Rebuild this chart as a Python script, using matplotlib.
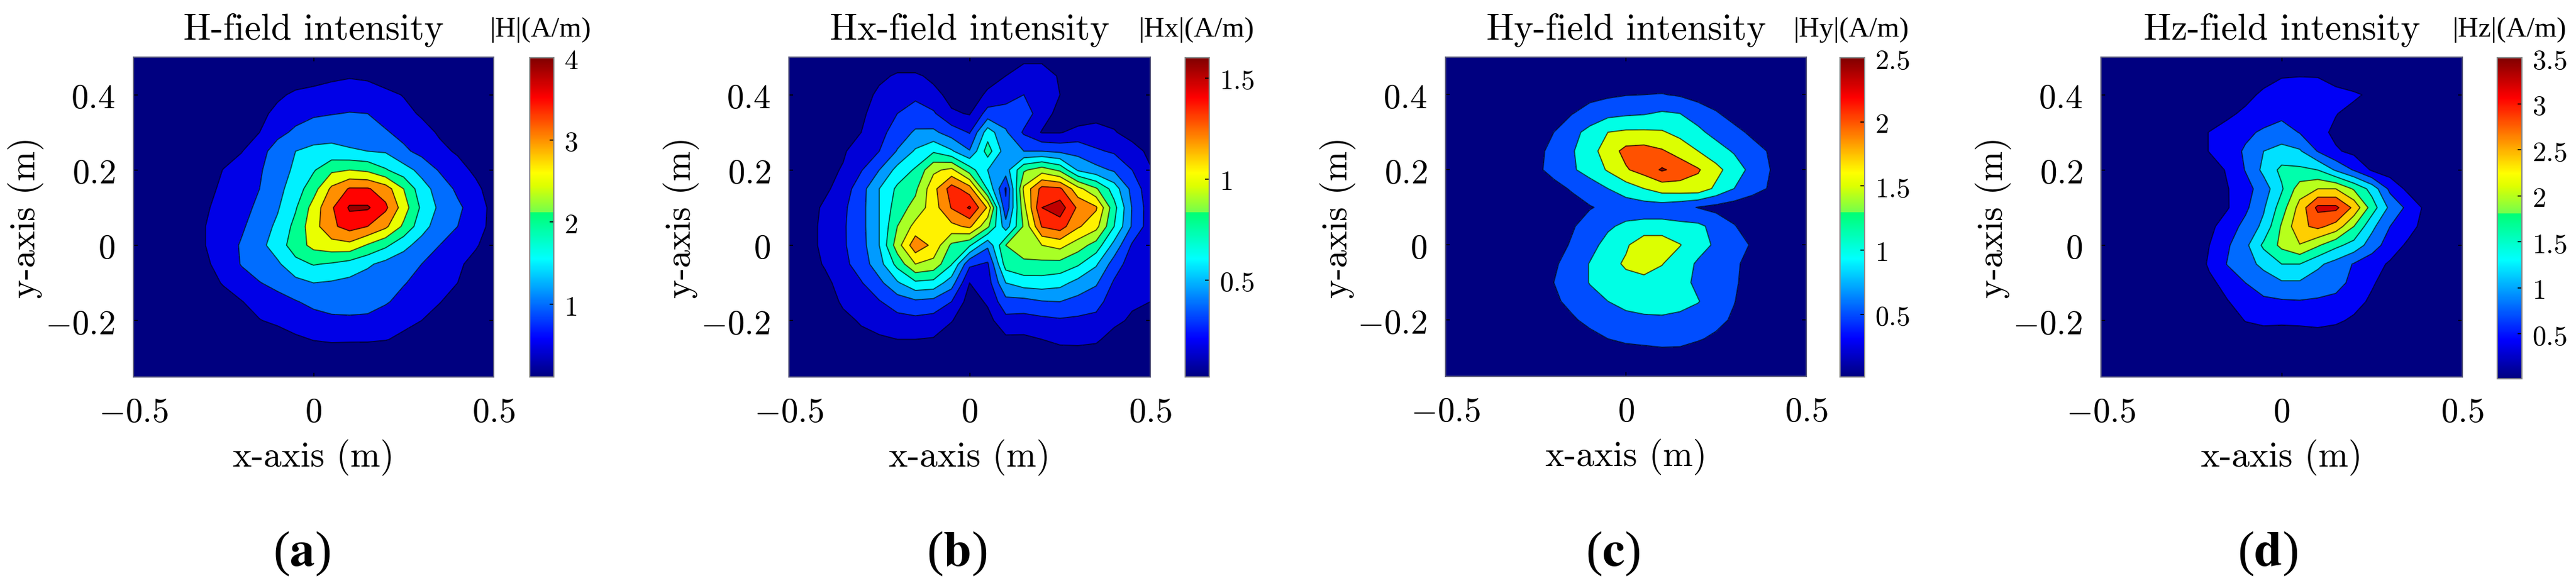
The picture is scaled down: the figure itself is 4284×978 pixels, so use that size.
import numpy as np
import matplotlib
matplotlib.use("Agg")
import matplotlib.pyplot as plt
from matplotlib.colors import LinearSegmentedColormap, Normalize
from matplotlib.cm import ScalarMappable

plt.rcParams['mathtext.fontset'] = 'cm'
W, H = 4284, 979

x_axis = np.round(np.linspace(-0.5, 0.5, 21), 2)
y_axis = np.round(np.linspace(0.5, -0.35, 18), 2)

# Field magnitudes (A/m), rows from y=0.5 down to y=-0.35, columns from x=-0.5 to x=0.5
H_total = np.array([
 [0,0,0,0,0,0,0,0,0,0,0,0,0,0,0,0,0,0,0,0,0],
 [0,0,0,0,0,0,0,0,0,.2,.25,.4,.46,.42,.3,.15,0,0,0,0,0],
 [0,0,0,0,0,0,0,.1,.4,.6,.7,.72,.75,.72,.6,.48,.3,0,0,0,0],
 [0,0,0,0,0,0,0,.35,.65,.8,.92,.98,1.02,1.0,.8,.62,.45,.25,.05,0,0],
 [0,0,0,0,0,.05,.2,.5,.85,1.1,1.3,1.3,1.3,1.25,1.05,.85,.65,.45,.25,.05,0],
 [0,0,0,0,.1,.25,.48,.8,1.25,1.5,1.6,1.65,1.55,1.5,1.45,1.1,.85,.6,.45,.3,.1],
 [0,0,0,.05,.2,.52,.7,.95,1.25,1.6,1.95,2.4,2.5,2.4,2.05,1.7,1.35,.95,.65,.42,.2],
 [0,0,0,.1,.35,.6,.8,1.0,1.35,1.75,2.3,3.1,3.55,3.55,3.25,2.5,1.7,1.3,.9,.6,.3],
 [0,0,0,.15,.45,.65,.85,1.1,1.45,1.95,2.7,3.45,3.95,3.95,3.6,2.75,1.9,1.4,1.1,.75,.35],
 [0,0,0,.2,.5,.7,.93,1.25,1.6,2.15,2.8,3.4,3.7,3.5,3.1,2.4,1.7,1.25,1.0,.7,.35],
 [0,0,0,.2,.5,.75,1.05,1.35,1.75,2.25,2.65,2.8,2.85,2.45,2.1,1.65,1.3,1.0,.8,.55,.25],
 [0,0,0,.15,.42,.7,1.03,1.25,1.42,1.85,2.03,1.95,1.8,1.58,1.35,1.2,1.0,.78,.58,.35,.15],
 [0,0,0,.05,.25,.55,.78,.98,1.15,1.35,1.5,1.45,1.37,1.25,1.15,1.03,.85,.65,.5,.3,.1],
 [0,0,0,0,.05,.25,.48,.7,.82,.97,1.12,1.2,1.2,1.18,1.05,.85,.7,.52,.3,.15,.05],
 [0,0,0,0,0,.1,.3,.48,.6,.72,.82,.9,.92,.9,.75,.6,.5,.3,.1,0,0],
 [0,0,0,0,0,0,.05,.15,.25,.42,.52,.56,.55,.55,.52,.42,.2,0,0,0,0],
 [0,0,0,0,0,0,0,0,0,.1,.2,.22,.22,.2,.15,.1,0,0,0,0,0],
 [0,0,0,0,0,0,0,0,0,0,0,0,0,0,0,0,0,0,0,0,0],
])
Hx = np.array([
 [0,0,0,0,0,0,0,0,0,0,0,0,0,.08,.08,0,0,0,0,0,0],
 [0,0,0,0,.02,.1,.18,.18,.11,.03,.02,.08,.15,.28,.28,.12,.03,0,0,0,0],
 [0,0,0,.02,.05,.2,.24,.27,.2,.1,.06,.18,.24,.3,.25,.15,.03,.02,.02,0,0],
 [0,0,.02,.07,.13,.2,.3,.36,.32,.17,.14,.36,.36,.38,.22,.1,.05,.1,.1,.03,0],
 [0,0,.05,.1,.15,.25,.37,.47,.48,.38,.29,.68,.47,.28,.14,.14,.2,.2,.16,.1,.05],
 [0,.03,.05,.12,.28,.3,.46,.62,.73,.62,.46,.82,.52,.45,.45,.42,.4,.32,.28,.2,.12],
 [0,.05,.08,.17,.29,.45,.65,.77,1.02,1.09,.82,.6,.53,.88,.98,.87,.58,.5,.43,.3,.16],
 [0,.07,.12,.22,.39,.6,.78,.87,1.15,1.42,1.27,.73,.28,1.08,1.4,1.38,1.1,.92,.68,.4,.2],
 [0,.08,.18,.27,.4,.6,.83,.95,1.13,1.36,1.52,1.18,.33,1.0,1.5,1.58,1.32,1.22,.8,.44,.22],
 [0,.08,.2,.28,.4,.6,.9,1.1,1.1,1.16,1.23,.93,.52,.92,1.36,1.42,1.22,1.1,.75,.43,.22],
 [0,.08,.2,.28,.39,.6,.98,1.3,1.16,.87,.77,.48,.9,.98,1.05,1.1,.97,.84,.55,.28,.18],
 [0,.06,.17,.26,.37,.54,.8,1.05,1.0,.76,.33,.28,.82,.87,.86,.85,.77,.62,.38,.22,.17],
 [0,.03,.1,.23,.29,.41,.58,.72,.7,.52,.15,.23,.6,.67,.68,.65,.55,.47,.28,.19,.16],
 [0,0,.05,.18,.23,.29,.37,.42,.4,.3,.08,.17,.4,.4,.44,.45,.4,.35,.23,.17,.15],
 [0,0,.02,.1,.17,.21,.25,.26,.24,.16,.03,.1,.25,.24,.26,.28,.27,.26,.18,.13,.08],
 [0,0,0,.03,.1,.13,.15,.15,.14,.05,0,.03,.12,.12,.15,.18,.18,.17,.1,.05,.02],
 [0,0,0,0,.03,.05,.07,.08,.07,.02,0,0,.05,.05,.06,.08,.09,.08,.03,0,0],
 [0,0,0,0,0,0,0,0,0,0,0,0,0,0,0,0,0,0,0,0,0],
])
Hy = np.array([
 [0,0,0,0,0,0,0,0,0,0,0,0,0,0,0,0,0,0,0,0,0],
 [0,0,0,0,0,0,0,0,0,.05,.1,.15,.2,.12,.05,0,0,0,0,0,0],
 [0,0,0,0,0,0,0,.1,.35,.42,.48,.5,.52,.45,.3,.2,0,0,0,0,0],
 [0,0,0,0,0,0,.25,.48,.7,.85,.92,.96,1.06,1.0,.8,.55,.3,0,0,0,0],
 [0,0,0,0,0,.2,.5,.85,1.15,1.5,1.58,1.58,1.55,1.35,1.1,.85,.65,.4,.2,0,0],
 [0,0,0,0,.1,.35,.65,.95,1.3,1.75,2.15,2.2,2.05,1.8,1.5,1.2,.95,.7,.45,.15,0],
 [0,0,0,0,.2,.4,.65,.93,1.2,1.55,1.95,2.2,2.5,2.3,2.05,1.65,1.25,.85,.5,.2,0],
 [0,0,0,0,0,.1,.35,.55,.75,1.0,1.25,1.5,1.74,1.78,1.8,1.4,1.0,.7,.45,.15,0],
 [0,0,0,0,0,.05,.15,.3,.47,.6,.72,.75,.75,.65,.48,.35,.25,.15,.05,0,0],
 [0,0,0,0,0,0,.2,.45,.7,.93,1.1,1.15,1.15,1.12,1.1,.85,.53,.25,.05,0,0],
 [0,0,0,0,0,.1,.3,.55,.85,1.15,1.42,1.85,1.85,1.52,1.2,.92,.72,.45,.1,0,0],
 [0,0,0,0,0,.05,.42,.72,1.02,1.3,1.58,1.72,1.52,1.25,.93,.8,.6,.3,.05,0,0],
 [0,0,0,0,0,.08,.5,.75,1.02,1.2,1.32,1.35,1.3,1.15,.9,.78,.58,.25,.02,0,0],
 [0,0,0,0,0,0,.4,.65,.85,1.0,1.12,1.18,1.2,1.1,1.02,.78,.52,.2,0,0,0],
 [0,0,0,0,0,0,.15,.42,.65,.8,.88,.92,.93,.92,.82,.65,.42,.1,0,0,0],
 [0,0,0,0,0,0,0,.1,.32,.5,.6,.65,.68,.68,.55,.4,.15,0,0,0,0],
 [0,0,0,0,0,0,0,0,.05,.15,.2,.22,.28,.25,.15,.08,0,0,0,0,0],
 [0,0,0,0,0,0,0,0,0,0,0,0,0,0,0,0,0,0,0,0,0],
])
Hz = np.array([
 [0,0,0,0,0,0,0,0,0,0,0,0,0,0,0,0,0,0,0,0,0],
 [0,0,0,0,0,0,0,0,0,.2,.38,.39,.38,.2,0,0,0,0,0,0,0],
 [0,0,0,0,0,0,0,0,.25,.5,.55,.6,.62,.55,.48,.3,.1,0,0,0,0],
 [0,0,0,0,0,0,0,.3,.5,.6,.68,.7,.7,.42,.25,.1,0,0,0,0,0],
 [0,0,0,0,0,.1,.42,.6,.72,.86,1.0,.78,.55,.3,.2,.08,0,0,0,0,0],
 [0,0,0,0,0,.1,.42,.62,.85,1.2,1.32,1.25,.78,.45,.3,.15,.05,0,0,0,0],
 [0,0,0,0,0,.02,.15,.45,.82,1.3,1.7,1.68,1.6,1.15,.77,.35,.2,.05,0,0,0],
 [0,0,0,0,0,0,.1,.38,.65,1.0,1.55,2.2,2.4,2.4,1.95,1.45,.7,.3,.05,0,0],
 [0,0,0,0,0,0,.1,.37,.72,1.15,1.8,2.55,3.3,3.3,2.7,1.8,1.1,.7,.3,.05,0],
 [0,0,0,0,0,.05,.3,.6,.92,1.3,2.05,2.7,2.9,2.65,2.0,1.3,.8,.55,.25,.03,0],
 [0,0,0,0,0,.1,.4,.75,1.1,1.68,2.1,2.38,2.05,1.7,1.45,1.0,.6,.33,.1,0,0],
 [0,0,0,0,0,.05,.47,.82,1.05,1.3,1.6,1.6,1.28,1.05,.77,.55,.35,.1,0,0,0],
 [0,0,0,0,0,0,.3,.55,.8,1.0,1.15,1.15,1.0,.9,.72,.45,.2,.03,0,0,0],
 [0,0,0,0,0,0,.1,.38,.58,.72,.75,.77,.75,.72,.55,.32,.1,0,0,0,0],
 [0,0,0,0,0,0,0,.15,.42,.5,.48,.5,.52,.47,.33,.12,0,0,0,0,0],
 [0,0,0,0,0,0,0,0,.1,.15,.15,.15,.2,.15,.05,0,0,0,0,0,0],
 [0,0,0,0,0,0,0,0,0,0,0,0,0,0,0,0,0,0,0,0,0],
 [0,0,0,0,0,0,0,0,0,0,0,0,0,0,0,0,0,0,0,0,0],
])

titles = ["H-field intensity", "Hx-field intensity", "Hy-field intensity", "Hz-field intensity"]
bar_labels = ["|H|(A/m)", "|Hx|(A/m)", "|Hy|(A/m)", "|Hz|(A/m)"]
letters = ["a", "b", "c", "d"]
fields = [H_total, Hx, Hy, Hz]
contour_levels = [
    [0.5, 1, 1.5, 2, 2.5, 3, 3.5, 3.9],
    [0.15, 0.3, 0.45, 0.6, 0.75, 0.9, 1.05, 1.2, 1.35, 1.5],
    [0.5, 1, 1.5, 2, 2.45],
    [0.4, 0.8, 1.2, 1.6, 2, 2.4, 2.8, 3.2],
]
bar_ranges = [(0.115, 4.0), (0.02, 1.6), (0.01, 2.5), (0.01, 3.5)]
bar_ticks = [[1, 2, 3, 4], [0.5, 1, 1.5], [0.5, 1, 1.5, 2, 2.5], [0.5, 1, 1.5, 2, 2.5, 3, 3.5]]

# pixel layout: axes left/right/top/bottom, bar left/right/top/bottom, centres of texts
ax_px = [(222, 821, 96, 628), (1312, 1913, 96, 628), (2404, 3004, 96, 627), (3494, 4095, 96, 628)]
bar_px = [(881, 921, 97, 628), (1971, 2011, 97, 628), (3060, 3101, 97, 628), (4153, 4194, 97, 631)]
bar_label_x = [899, 1990, 3079, 4173]
letter_x = [502, 1591, 2682, 3771]

jet = LinearSegmentedColormap.from_list("jet_like", [
    (0.0, (0, 0, .5)), (.12, (0, 0, 1)), (.37, (0, 1, 1)), (.515, (0, 1, .45)),
    (.516, (.45, 1, .3)), (.60, (.87, 1, 0)), (.64, (1, 1, 0)), (.875, (1, 0, 0)), (1.0, (.5, 0, 0))], N=512)

fig = plt.figure(figsize=(W / 100, H / 100), dpi=100, facecolor="white")

def rect(l, r, t, b):
    return [l / W, 1 - b / H, (r - l) / W, (b - t) / H]

CM = ["cmr10", "DejaVu Serif"]
TICK_FS = 41
LABEL_FS = 43
for i in range(4):
    ax = fig.add_axes(rect(*ax_px[i]))
    vmin, vmax = bar_ranges[i]
    norm = Normalize(vmin, vmax)
    lv = contour_levels[i]
    colors = [jet(0.0)] + [jet(norm(v)) for v in lv]
    bounds = [-1] + lv + [100]
    ax.contourf(x_axis, y_axis, fields[i], levels=bounds, colors=colors)
    ax.contour(x_axis, y_axis, fields[i], levels=lv, colors="k", linewidths=1.3, alpha=0.7)
    ax.set_xlim(-0.5, 0.5)
    ax.set_ylim(-0.35, 0.5)
    ax.set_xticks([-0.5, 0, 0.5], [r"${-}0.5$", r"$0$", r"$0.5$"])
    ax.set_yticks([-0.2, 0, 0.2, 0.4], [r"${-}0.2$", r"$0$", r"$0.2$", r"$0.4$"])
    ax.tick_params(direction="in", length=5, width=1.2, top=True, right=True, labelsize=TICK_FS, pad=22)
    for s in ax.spines.values():
        s.set_linewidth(1.5)
        s.set_color("#55557a")
    ax.set_xlabel("x-axis (m)", fontsize=LABEL_FS, family=CM, labelpad=12)
    ax.set_ylabel("y-axis (m)", fontsize=LABEL_FS, family=CM, labelpad=2)
    cx = (ax_px[i][0] + ax_px[i][1]) / 2
    fig.text(cx / W, 1 - 50 / H, titles[i], fontsize=44, family=CM, ha="center", va="center")
    fig.text(bar_label_x[i] / W, 1 - 50 / H, bar_labels[i], fontsize=34,
             family="Liberation Serif", ha="center", va="center")
    fig.text(letter_x[i] / W, 1 - 921 / H, rf"($\mathbf{{{letters[i]}}}$)", fontsize=60,
             family="Liberation Serif", math_fontfamily="stix", ha="center", va="center")

    cax = fig.add_axes(rect(*bar_px[i]))
    cb = fig.colorbar(ScalarMappable(norm=norm, cmap=jet), cax=cax)
    cb.set_ticks(bar_ticks[i], labels=[f"${t:g}$" for t in bar_ticks[i]])
    cb.ax.tick_params(direction="in", length=5, width=1.2, labelsize=33, pad=12)
    cb.outline.set_linewidth(1.5)
    cb.outline.set_edgecolor("#888888")

fig.savefig("out.png", dpi=100)
